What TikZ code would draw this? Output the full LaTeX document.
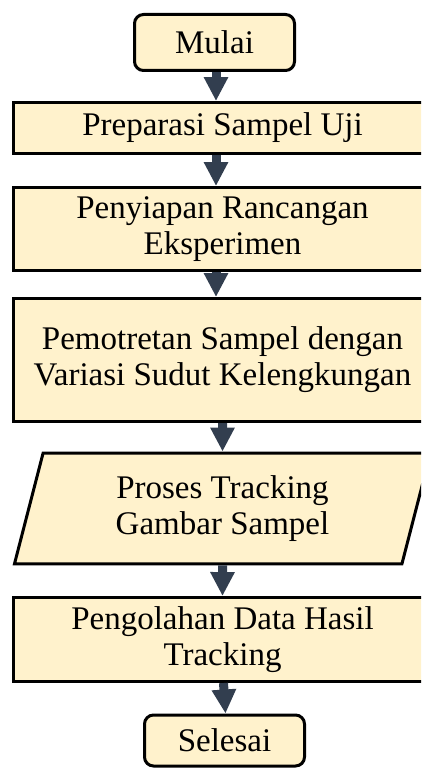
\documentclass[tikz,border=0pt]{standalone}
\usepackage{fontspec}
\setmainfont{Liberation Serif}
\usetikzlibrary{shapes.geometric,arrows.meta}
\definecolor{boxfill}{HTML}{FFF2CC}
\definecolor{arrowblue}{HTML}{323E4F}
\begin{document}
\begin{tikzpicture}[x=1pt,y=-1pt,
  base/.style={draw=black,line width=3pt,fill=boxfill,inner sep=0pt,align=center,
    font=\fontsize{33}{36}\selectfont},
  terminal/.style={base,rounded corners=9pt,minimum width=160pt},
  process/.style={base,minimum width=418pt},
  io/.style={base,trapezium,trapezium left angle=75.5,trapezium right angle=104.5,
    minimum width=418pt},
  flow/.style={line width=9pt,draw=arrowblue,-{Triangle[length=24pt,width=23pt]}}]
\useasboundingbox (0,0) rectangle (421,768);
\clip (0,0) rectangle (421,768);
%
\node (mulai)   at (214.5,42.5) [terminal,minimum height=56pt] {Mulai};
\node (prep)    at (222.5,128)  [process,minimum height=51pt] {Preparasi Sampel Uji};
\node (rancang) at (222.5,229)  [process,minimum height=83pt] {Penyiapan Rancangan\\Eksperimen};
\node (potret)  at (222.5,360)  [process,minimum height=123pt] {Pemotretan Sampel dengan\\Variasi Sudut Kelengkungan};
%
\node (track)   at (222.5,508.5) [io,minimum height=108pt] {Proses Tracking\\Gambar Sampel};
\node (olah)    at (222.5,639.5) [process,minimum height=84pt] {Pengolahan Data Hasil\\Tracking};
\node (selesai) at (224.5,740.5) [terminal,minimum height=51pt] {Selesai};
%
\draw[flow] ([xshift=1.5pt]mulai.south) -- ([xshift=-6.5pt]prep.north);
\draw[flow] ([xshift=-6.5pt]prep.south) -- ([xshift=-6.5pt]rancang.north);
\draw[flow] ([xshift=-6.5pt]rancang.south) -- ([xshift=-6.5pt]potret.north);
% lower half
\draw[flow] (potret.south) -- (track.north);
\draw[flow] (track.south) -- (olah.north);
\draw[flow] ([xshift=1pt]olah.south) -- ([xshift=1pt]selesai.north);
\end{tikzpicture}
\end{document}
